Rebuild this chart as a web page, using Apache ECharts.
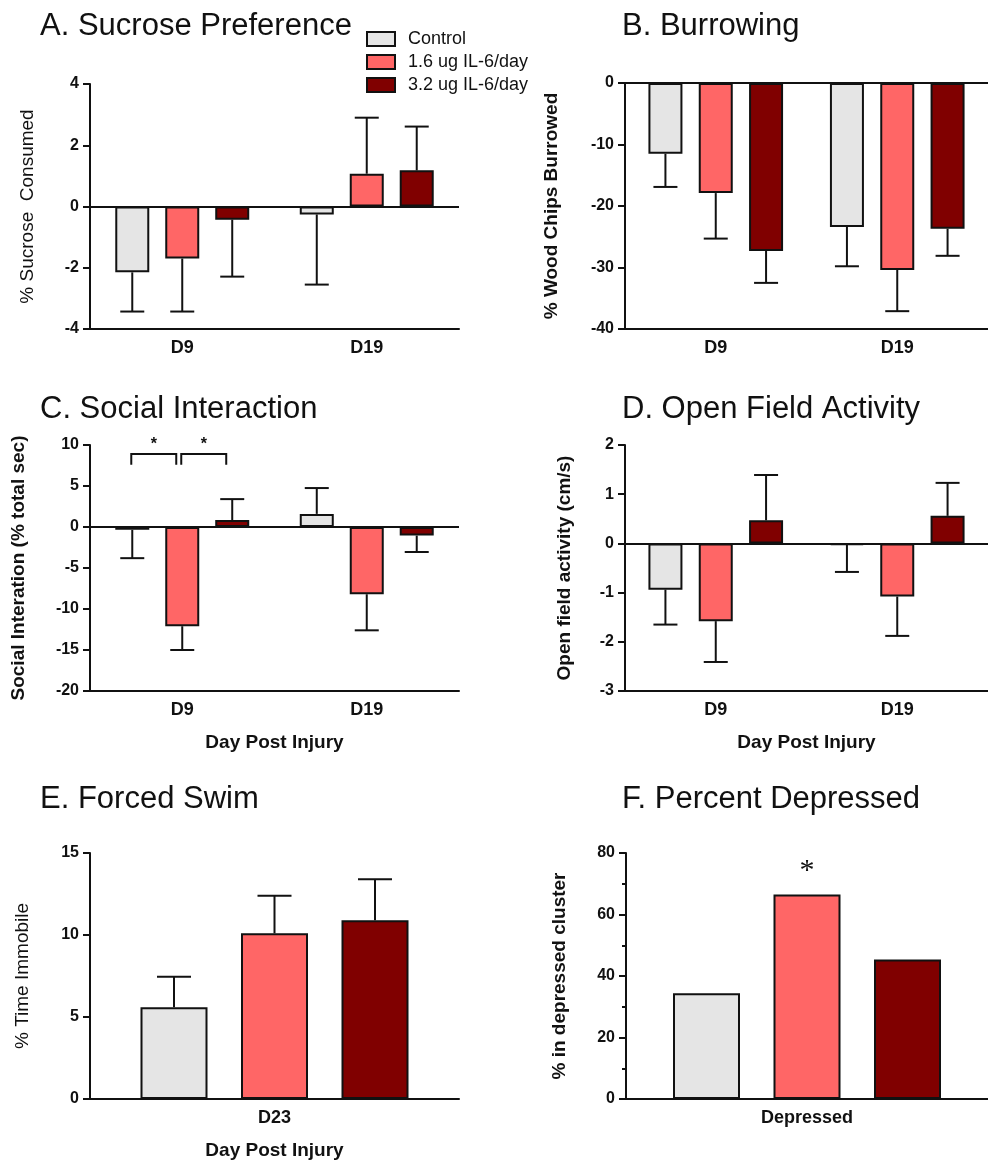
<!DOCTYPE html>
<html>
<head>
<meta charset="utf-8">
<script src="https://cdn.jsdelivr.net/npm/echarts@6/dist/echarts.min.js"></script>
<style>
  html, body { margin: 0; padding: 0; background: #fff; }
  #chart { width: 988px; height: 1167px; }
</style>
</head>
<body>
<div id="chart"></div>
<script>
// ---- data ----
const groups = ['Control', '1.6 ug IL-6/day', '3.2 ug IL-6/day'];
const dayCats = ['D9', 'D19'];
const swimCats = ['D23'];
const depressedCats = ['Depressed'];

// mean and SEM per group (rows: Control, 1.6 ug, 3.2 ug; columns: categories)
const sucroseMean = [[-2.15, -0.26], [-1.70, 1.07], [-0.43, 1.18]];
const sucroseSem  = [[1.28, 2.29], [1.73, 1.83], [1.86, 1.43]];

const burrowMean = [[-11.5, -23.4], [-17.9, -30.4], [-27.3, -23.7]];
const burrowSem  = [[5.4, 6.4], [7.4, 6.7], [5.2, 4.4]];

const socialMean = [[-0.35, 1.6], [-12.1, -8.2], [0.85, -1.05]];
const socialSem  = [[3.45, 3.15], [2.9, 4.4], [2.55, 2.0]];

const openFieldMean = [[-0.94, -0.03], [-1.58, -1.08], [0.47, 0.56]];
const openFieldSem  = [[0.71, 0.55], [0.83, 0.80], [0.92, 0.67]];

const swimMean = [[5.6], [10.1], [10.9]];
const swimSem  = [[1.85], [2.3], [2.5]];

const depressedPct = [[34.4], [66.5], [45.4]];

// significance: pairs of group indices compared within D9 (social interaction)
const socialSigPairs = [[0, 1], [1, 2]];
const socialSigLevel = { top: 8.9, leg: 7.6 };

// ---- styling ----
const colors = ['#e5e5e5', '#ff6666', '#800000'];
const FONT = '"Liberation Sans", Arial, sans-serif';

const panels = [
  { title: 'A. Sucrose Preference', tl: [40, 11], grid: { left: 90, top: 84, width: 369, height: 245 },
    cats: dayCats, mean: sucroseMean, sem: sucroseSem, y: [-4, 4, 2],
    yName: '% Sucrose  Consumed', yBold: false, yGap: 53, xName: '', barW: 34, gapPct: 47, cap: 24, zero: true },
  { title: 'B. Burrowing', tl: [622, 11], grid: { left: 625, top: 83, width: 368, height: 246 },
    cats: dayCats, mean: burrowMean, sem: burrowSem, y: [-40, 0, 10],
    yName: '% Wood Chips Burrowed', yBold: true, yGap: 64, xName: '', barW: 34, gapPct: 48, cap: 24, zero: true },
  { title: 'C. Social Interaction', tl: [40, 394], grid: { left: 90, top: 445, width: 369, height: 246 },
    cats: dayCats, mean: socialMean, sem: socialSem, y: [-20, 10, 5],
    yName: 'Social Interation (% total sec)', yBold: true, yGap: 62, xName: 'Day Post Injury', barW: 34, gapPct: 47, cap: 24, zero: true },
  { title: 'D. Open Field Activity', tl: [622, 394], grid: { left: 625, top: 445, width: 368, height: 246 },
    cats: dayCats, mean: openFieldMean, sem: openFieldSem, y: [-3, 2, 1],
    yName: 'Open field activity (cm/s)', yBold: true, yGap: 51, xName: 'Day Post Injury', barW: 34, gapPct: 48, cap: 24, zero: true },
  { title: 'E. Forced Swim', tl: [40, 784], grid: { left: 90, top: 853, width: 369, height: 246 },
    cats: swimCats, mean: swimMean, sem: swimSem, y: [0, 15, 5],
    yName: '% Time Immobile', yBold: false, yGap: 58, xName: 'Day Post Injury', barW: 67, gapPct: 50, cap: 34, zero: false },
  { title: 'F. Percent Depressed', tl: [622, 784], grid: { left: 626, top: 853, width: 366, height: 246 },
    cats: depressedCats, mean: depressedPct, sem: null, y: [0, 80, 20], minor: true,
    yName: '% in depressed cluster', yBold: true, yGap: 57, xName: '', barW: 67, gapPct: 50, cap: 34, zero: false }
];

const titles = [], grids = [], xAxes = [], yAxes = [], series = [];

panels.forEach((p, i) => {
  titles.push({
    text: p.title, left: p.tl[0], top: p.tl[1], padding: 0,
    textStyle: { fontFamily: FONT, fontSize: 31, fontWeight: 'normal', color: '#111' }
  });
  grids.push(Object.assign({ containLabel: false }, p.grid));
  xAxes.push({
    type: 'category', gridIndex: i, data: p.cats,
    name: p.xName, nameLocation: 'middle', nameGap: 42,
    nameTextStyle: { fontFamily: FONT, fontSize: 19, fontWeight: 'bold', color: '#111' },
    axisLine: { onZero: false, lineStyle: { color: '#111', width: 2 } },
    axisTick: { alignWithLabel: true, length: 7, lineStyle: { color: '#111', width: 2 } },
    axisLabel: { fontFamily: FONT, fontSize: 18, fontWeight: 'bold', color: '#111', margin: 10 },
    splitLine: { show: false }
  });
  yAxes.push({
    type: 'value', gridIndex: i, min: p.y[0], max: p.y[1], interval: p.y[2],
    name: p.yName, nameLocation: 'middle', nameGap: p.yGap,
    nameTextStyle: { fontFamily: FONT, fontSize: 19, fontWeight: p.yBold ? 'bold' : 'normal', color: '#111' },
    axisLine: { show: true, lineStyle: { color: '#111', width: 2 } },
    axisTick: { show: true, length: 7, lineStyle: { color: '#111', width: 2 } },
    minorTick: { show: !!p.minor, splitNumber: 2, length: 4, lineStyle: { color: '#111', width: 2 } },
    axisLabel: { fontFamily: FONT, fontSize: 16, fontWeight: 'bold', color: '#111', margin: 11 },
    splitLine: { show: false }
  });

  const pitch = p.barW * (1 + p.gapPct / 100);

  groups.forEach((g, s) => {
    const bar = {
      type: 'bar', name: g, xAxisIndex: i, yAxisIndex: i,
      data: p.mean[s], barWidth: p.barW, barGap: p.gapPct + '%',
      itemStyle: { color: colors[s], borderColor: '#111', borderWidth: 2 },
      emphasis: { disabled: true }, z: 3
    };
    if (s === 0 && p.zero) {
      bar.markLine = {
        silent: true, symbol: 'none', label: { show: false },
        lineStyle: { color: '#111', width: 2, type: 'solid' },
        data: [{ yAxis: 0 }]
      };
    }
    // starred group in the percent-depressed panel
    if (i === 5 && s === 1) {
      bar.label = {
        show: true, position: 'top', distance: 8, formatter: '*',
        fontFamily: '"Liberation Serif", "Times New Roman", serif', fontSize: 30, color: '#111'
      };
    }
    series.push(bar);

    if (p.sem) {
      const offset = (s - 1) * pitch;
      series.push({
        type: 'custom', name: g + ' SEM', xAxisIndex: i, yAxisIndex: i, z: 4, silent: true,
        data: p.mean[s].map((m, k) => [k, m, p.sem[s][k]]),
        renderItem: (params, api) => {
          const m = api.value(1), e = api.value(2);
          const end = m + (m < 0 ? -e : e);
          const a = api.coord([api.value(0), m]);
          const b = api.coord([api.value(0), end]);
          const x = a[0] + offset;
          const st = { stroke: '#111', lineWidth: 2, fill: null };
          return {
            type: 'group', children: [
              { type: 'line', shape: { x1: x, y1: a[1], x2: x, y2: b[1] }, style: st },
              { type: 'line', shape: { x1: x - p.cap / 2, y1: b[1], x2: x + p.cap / 2, y2: b[1] }, style: st }
            ]
          };
        }
      });
    }
  });

  // significance brackets for social interaction at D9
  if (i === 2) {
    series.push({
      type: 'custom', name: 'significance', xAxisIndex: i, yAxisIndex: i, z: 5, silent: true,
      data: socialSigPairs.map(pr => [0, socialSigLevel.top, socialSigLevel.leg, pr[0], pr[1]]),
      renderItem: (params, api) => {
        const c = api.coord([api.value(0), api.value(1)]);
        const lg = api.coord([api.value(0), api.value(2)]);
        const x1 = c[0] + (api.value(3) - 1) * pitch - 1;
        const x2 = c[0] + (api.value(4) - 1) * pitch - 6;
        return {
          type: 'group', children: [
            { type: 'polyline', shape: { points: [[x1, lg[1]], [x1, c[1]], [x2, c[1]], [x2, lg[1]]] },
              style: { stroke: '#111', lineWidth: 2, fill: null } },
            { type: 'text', style: { text: '*', x: (x1 + x2) / 2, y: c[1] - 9, align: 'center', verticalAlign: 'middle',
              font: 'bold 16px ' + FONT, fill: '#111' } }
          ]
        };
      }
    });
  }
});

const chart = echarts.init(document.getElementById('chart'), null, { renderer: 'canvas' });
chart.setOption({
  animation: false,
  backgroundColor: '#fff',
  title: titles,
  legend: {
    data: groups, orient: 'vertical', left: 361, top: 25, icon: 'rect',
    itemWidth: 28, itemHeight: 14, itemGap: 5,
    textStyle: { fontFamily: FONT, fontSize: 18, color: '#111', padding: [0, 0, 0, 8] },
    selectedMode: false
  },
  grid: grids,
  xAxis: xAxes,
  yAxis: yAxes,
  series: series
});
</script>
</body>
</html>
